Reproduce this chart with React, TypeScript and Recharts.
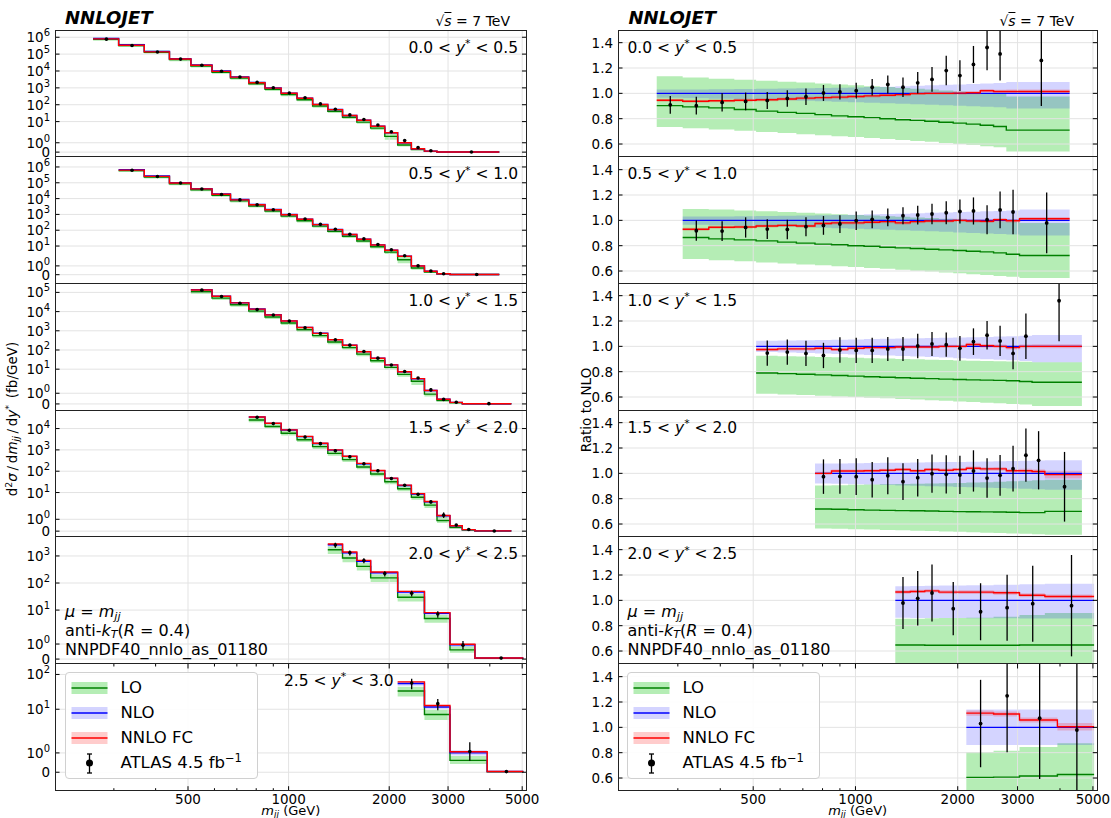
import React from "react";
import {
  Area,
  ComposedChart,
  ErrorBar,
  Line,
  ReferenceLine,
  Scatter,
  XAxis,
  YAxis,
} from "recharts";

const FONT = '"DejaVu Sans", Verdana, sans-serif';

// ---- layout ----
const TOP = 30;
const PH = 126.7;
const XAXIS_H = 34;
const LEFT = { chartLeft: 0, axisW: 55, plotW: 471.5 };
const RIGHT = { chartLeft: 560, axisW: 58, plotW: 479.3 };

const X_DOMAIN = [200, 5150];
const RATIO_DOMAIN = [0.5, 1.5];
const xTicks = [300, 400, 500, 600, 700, 800, 900, 1000, 2000, 3000, 4000, 5000];
const xMajor = [500, 1000, 2000, 3000, 5000];
const ratioTicks = [0.6, 0.8, 1.0, 1.2, 1.4];

// ---- 0.0 < y* < 0.5 ----
const edges1 = [260, 310, 370, 440, 510, 590, 670, 760, 850, 950, 1060, 1180, 1310, 1450, 1600, 1760, 1940, 2120, 2330, 2550, 2780, 4270];
const nlo1 = [8.5e5, 3.6e5, 1.45e5, 5.4e4, 2.3e4, 1.0e4, 4.5e3, 2.1e3, 1.0e3, 490, 245, 105, 52, 23, 12, 5.3, 2.2, 1.0, 0.36, 0.11, 0.015];
const lo1 = [0.903, 0.893, 0.885, 0.872, 0.86, 0.85, 0.842, 0.832, 0.822, 0.815, 0.808, 0.8, 0.792, 0.787, 0.78, 0.772, 0.765, 0.757, 0.748, 0.738, 0.71];
const loHi1 = [1.135, 1.125, 1.115, 1.108, 1.1, 1.092, 1.085, 1.078, 1.07, 1.063, 1.056, 1.05, 1.043, 1.036, 1.03, 1.022, 1.015, 1.008, 1.0, 0.995, 0.975];
const loLo1 = [0.735, 0.725, 0.715, 0.705, 0.695, 0.687, 0.678, 0.67, 0.662, 0.655, 0.647, 0.64, 0.632, 0.624, 0.617, 0.608, 0.6, 0.592, 0.583, 0.574, 0.54];
const nloHi1 = [1.03, 1.03, 1.032, 1.034, 1.036, 1.038, 1.04, 1.042, 1.045, 1.047, 1.05, 1.053, 1.056, 1.06, 1.063, 1.067, 1.07, 1.074, 1.078, 1.082, 1.09];
const nloLo1 = [0.965, 0.962, 0.958, 0.954, 0.95, 0.946, 0.942, 0.938, 0.934, 0.93, 0.926, 0.922, 0.918, 0.914, 0.91, 0.906, 0.902, 0.898, 0.894, 0.89, 0.88];
const nnlo1 = [0.945, 0.938, 0.942, 0.945, 0.95, 0.955, 0.962, 0.966, 0.97, 0.975, 0.98, 0.985, 0.99, 0.998, 1.0, 1.0, 1.002, 1.005, 1.02, 1.015, 1.015];
const nnloErr1 = [0.012, 0.012, 0.012, 0.012, 0.012, 0.012, 0.012, 0.012, 0.012, 0.012, 0.012, 0.012, 0.012, 0.012, 0.012, 0.012, 0.013, 0.013, 0.014, 0.014, 0.015];
const data1 = [0.909, 0.903, 0.928, 0.936, 0.944, 0.96, 0.973, 1.003, 1.011, 1.021, 1.048, 1.07, 1.048, 1.083, 1.11, 1.18, 1.14, 1.228, 1.362, 1.311, 1.26];
const err1 = [0.07, 0.07, 0.072, 0.07, 0.067, 0.065, 0.065, 0.063, 0.06, 0.062, 0.065, 0.071, 0.077, 0.085, 0.098, 0.117, 0.122, 0.146, 0.18, 0.21, 0.36];

// ---- 0.5 < y* < 1.0 ----
const edges2 = [310, 370, 440, 510, 590, 670, 760, 850, 950, 1060, 1180, 1310, 1450, 1600, 1760, 1940, 2120, 2330, 2550, 2780, 3040, 4270];
const nlo2 = [6.8e5, 2.7e5, 1.02e5, 4.3e4, 1.97e4, 8.7e3, 4.2e3, 2.03e3, 980, 500, 230, 111, 54, 27, 11.8, 5.4, 2.25, 1.0, 0.39, 0.1, 0.02];
const lo2 = [0.865, 0.854, 0.846, 0.838, 0.828, 0.82, 0.812, 0.807, 0.8, 0.796, 0.788, 0.783, 0.778, 0.772, 0.767, 0.762, 0.756, 0.751, 0.743, 0.732, 0.722];
const loHi2 = [1.09, 1.085, 1.078, 1.072, 1.066, 1.06, 1.054, 1.048, 1.043, 1.038, 1.033, 1.028, 1.023, 1.018, 1.013, 1.008, 1.003, 0.998, 0.993, 0.988, 0.98];
const loLo2 = [0.695, 0.685, 0.677, 0.668, 0.66, 0.652, 0.645, 0.638, 0.631, 0.624, 0.617, 0.61, 0.603, 0.596, 0.589, 0.582, 0.575, 0.568, 0.561, 0.554, 0.544];
const nloHi2 = [1.03, 1.031, 1.033, 1.035, 1.037, 1.039, 1.041, 1.043, 1.045, 1.048, 1.05, 1.053, 1.056, 1.059, 1.062, 1.065, 1.068, 1.071, 1.074, 1.078, 1.085];
const nloLo2 = [0.965, 0.961, 0.957, 0.953, 0.949, 0.945, 0.941, 0.937, 0.933, 0.929, 0.925, 0.921, 0.917, 0.913, 0.909, 0.905, 0.901, 0.897, 0.893, 0.889, 0.88];
const nnlo2 = [0.93, 0.945, 0.948, 0.955, 0.96, 0.955, 0.975, 0.98, 0.98, 0.985, 0.99, 0.98, 0.99, 0.995, 0.995, 1.0, 0.995, 0.993, 1.005, 0.997, 1.012];
const nnloErr2 = [0.012, 0.012, 0.012, 0.012, 0.012, 0.012, 0.012, 0.012, 0.012, 0.012, 0.012, 0.012, 0.012, 0.012, 0.012, 0.013, 0.013, 0.013, 0.014, 0.014, 0.015];
const data2 = [0.918, 0.915, 0.944, 0.931, 0.928, 0.95, 0.96, 0.971, 0.997, 1.008, 1.024, 1.037, 1.042, 1.05, 1.06, 1.07, 1.074, 1.005, 1.082, 1.066, 0.98];
const err2 = [0.08, 0.078, 0.08, 0.078, 0.077, 0.075, 0.074, 0.07, 0.073, 0.07, 0.07, 0.067, 0.074, 0.08, 0.09, 0.095, 0.107, 0.115, 0.145, 0.176, 0.24];

// ---- 1.0 < y* < 1.5 ----
const edges3 = [510, 590, 670, 760, 850, 950, 1060, 1180, 1310, 1450, 1600, 1760, 1940, 2120, 2330, 2550, 2780, 3040, 3310, 4640];
const nlo3 = [1.38e5, 6.4e4, 2.9e4, 1.37e4, 6.8e3, 3.3e3, 1.5e3, 740, 345, 178, 82, 37, 16.8, 7.3, 3.2, 1.26, 0.45, 0.15, 0.02];
const lo3 = [0.79, 0.785, 0.78, 0.775, 0.77, 0.765, 0.76, 0.756, 0.752, 0.748, 0.745, 0.741, 0.738, 0.735, 0.733, 0.731, 0.728, 0.722, 0.716];
const loHi3 = [0.925, 0.922, 0.919, 0.916, 0.913, 0.91, 0.907, 0.904, 0.901, 0.898, 0.895, 0.892, 0.889, 0.886, 0.884, 0.882, 0.88, 0.878, 0.875];
const loLo3 = [0.625, 0.62, 0.615, 0.61, 0.605, 0.6, 0.595, 0.59, 0.585, 0.58, 0.575, 0.57, 0.565, 0.56, 0.555, 0.55, 0.545, 0.54, 0.53];
const nloHi3 = [1.045, 1.047, 1.049, 1.051, 1.053, 1.055, 1.057, 1.059, 1.061, 1.063, 1.065, 1.067, 1.069, 1.071, 1.074, 1.077, 1.08, 1.084, 1.09];
const nloLo3 = [0.955, 0.951, 0.947, 0.943, 0.939, 0.935, 0.931, 0.927, 0.923, 0.919, 0.915, 0.911, 0.907, 0.903, 0.899, 0.895, 0.89, 0.885, 0.875];
const nnlo3 = [0.975, 0.98, 0.98, 0.985, 0.975, 0.985, 0.99, 0.99, 0.995, 0.995, 0.995, 1.0, 1.0, 1.015, 1.005, 1.0, 0.99, 1.0, 1.0];
const nnloErr3 = [0.012, 0.012, 0.012, 0.012, 0.012, 0.012, 0.012, 0.012, 0.012, 0.012, 0.012, 0.013, 0.013, 0.013, 0.014, 0.014, 0.015, 0.015, 0.016];
const data3 = [0.947, 0.955, 0.944, 0.928, 0.971, 0.968, 0.968, 0.979, 0.979, 1.003, 1.019, 1.013, 0.984, 1.037, 1.088, 1.043, 0.944, 1.08, 1.36];
const err3 = [0.1, 0.1, 0.1, 0.1, 0.1, 0.1, 0.1, 0.095, 0.095, 0.097, 0.095, 0.096, 0.097, 0.105, 0.113, 0.12, 0.124, 0.18, 0.32];

// ---- 1.5 < y* < 2.0 ----
const edges4 = [760, 850, 950, 1060, 1180, 1310, 1450, 1600, 1760, 1940, 2120, 2330, 2550, 2780, 3040, 3310, 3610, 4640];
const nlo4 = [3.5e4, 1.75e4, 8.5e3, 4.2e3, 2.0e3, 970, 495, 225, 106, 46, 21.5, 8.6, 3.7, 1.3, 0.45, 0.13, 0.02];
const lo4 = [0.719, 0.717, 0.713, 0.71, 0.708, 0.706, 0.705, 0.703, 0.7, 0.698, 0.697, 0.696, 0.695, 0.693, 0.69, 0.69, 0.7];
const loHi4 = [0.905, 0.907, 0.909, 0.911, 0.913, 0.915, 0.917, 0.919, 0.921, 0.924, 0.927, 0.93, 0.933, 0.937, 0.941, 0.945, 0.95];
const loLo4 = [0.565, 0.562, 0.559, 0.556, 0.553, 0.55, 0.547, 0.544, 0.541, 0.538, 0.535, 0.532, 0.529, 0.526, 0.523, 0.52, 0.515];
const nloHi4 = [1.077, 1.078, 1.08, 1.081, 1.083, 1.084, 1.086, 1.087, 1.089, 1.09, 1.092, 1.093, 1.095, 1.097, 1.099, 1.101, 1.103];
const nloLo4 = [0.92, 0.917, 0.914, 0.911, 0.908, 0.905, 0.902, 0.899, 0.896, 0.893, 0.89, 0.887, 0.884, 0.881, 0.878, 0.875, 0.87];
const nnlo4 = [1.0, 1.018, 1.018, 1.02, 1.025, 1.03, 1.02, 1.03, 1.025, 1.03, 1.04, 1.035, 1.035, 1.02, 1.02, 1.015, 0.99];
const nnloErr4 = [0.012, 0.012, 0.012, 0.012, 0.012, 0.012, 0.012, 0.013, 0.013, 0.013, 0.014, 0.014, 0.015, 0.015, 0.016, 0.016, 0.03];
const data4 = [0.974, 0.976, 0.974, 0.95, 0.981, 0.934, 0.966, 0.997, 0.992, 0.987, 1.019, 0.963, 0.984, 1.037, 1.143, 1.103, 0.894];
const err4 = [0.136, 0.137, 0.145, 0.14, 0.146, 0.145, 0.148, 0.151, 0.151, 0.151, 0.163, 0.156, 0.16, 0.18, 0.21, 0.23, 0.275];

// ---- 2.0 < y* < 2.5 ----
const edges5 = [1310, 1450, 1600, 1760, 2120, 2550, 3040, 3610, 5040];
const nlo5 = [2.6e3, 1.3e3, 640, 240, 46, 7.6, 0.95, 0.07];
const lo5 = [0.648, 0.648, 0.645, 0.645, 0.645, 0.645, 0.648, 0.648];
const loHi5 = [0.855, 0.855, 0.858, 0.86, 0.862, 0.87, 0.885, 0.9];
const loLo5 = [0.45, 0.45, 0.45, 0.45, 0.45, 0.45, 0.45, 0.45];
const nloHi5 = [1.112, 1.114, 1.116, 1.118, 1.12, 1.123, 1.127, 1.13];
const nloLo5 = [0.862, 0.861, 0.86, 0.86, 0.859, 0.858, 0.857, 0.856];
const nnlo5 = [1.066, 1.07, 1.075, 1.065, 1.065, 1.06, 1.04, 1.03];
const nnloErr5 = [0.013, 0.013, 0.013, 0.014, 0.014, 0.015, 0.016, 0.016];
const data5 = [0.979, 1.016, 1.058, 0.934, 0.91, 0.942, 0.974, 0.958];
const err5 = [0.205, 0.215, 0.225, 0.21, 0.225, 0.26, 0.3, 0.4];

// ---- 2.5 < y* < 3.0 ----
const edges6 = [2120, 2550, 3040, 3930, 5040];
const nlo6 = [55, 11.6, 1.0, 0.035];
const lo6 = [0.605, 0.607, 0.616, 0.628];
const loHi6 = [0.805, 0.815, 0.845, 0.875];
const loLo6 = [0.42, 0.42, 0.42, 0.42];
const nloHi6 = [1.14, 1.14, 1.14, 1.14];
const nloLo6 = [0.86, 0.86, 0.86, 0.86];
const nnlo6 = [1.112, 1.105, 1.058, 1.005];
const nnloErr6 = [0.02, 0.02, 0.02, 0.03];
const data6 = [1.03, 1.249, 1.072, 0.979];
const err6 = [0.345, 0.445, 0.48, 0.55];

const yLabels = ["0.0", "0.5", "1.0", "1.5", "2.0", "2.5", "3.0"];

// symlog (linthresh 2, linscale 1), in decades
const LIN = 2;
const LSC = 1 / (1 - 1 / 10);
const symlog = (v: number) => (v <= LIN ? (Math.max(v, 0) / LIN) * LSC : LSC + Math.log10(v / LIN));

type PanelDef = {
  edges: number[]; nlo: number[]; lo: number[]; loHi: number[]; loLo: number[];
  nloHi: number[]; nloLo: number[]; nnlo: number[]; nnloErr: number[];
  data: number[]; err: number[]; fDomain: [number, number]; maxExp: number;
};

const panels: PanelDef[] = [
  { edges: edges1, nlo: nlo1, lo: lo1, loHi: loHi1, loLo: loLo1, nloHi: nloHi1, nloLo: nloLo1, nnlo: nnlo1, nnloErr: nnloErr1, data: data1, err: err1, fDomain: [-0.27, 7.24], maxExp: 6 },
  { edges: edges2, nlo: nlo2, lo: lo2, loHi: loHi2, loLo: loLo2, nloHi: nloHi2, nloLo: nloLo2, nnlo: nnlo2, nnloErr: nnloErr2, data: data2, err: err2, fDomain: [-0.57, 7.44], maxExp: 6 },
  { edges: edges3, nlo: nlo3, lo: lo3, loHi: loHi3, loLo: loLo3, nloHi: nloHi3, nloLo: nloLo3, nnlo: nnlo3, nnloErr: nnloErr3, data: data3, err: err3, fDomain: [-0.3, 6.3], maxExp: 5 },
  { edges: edges4, nlo: nlo4, lo: lo4, loHi: loHi4, loLo: loLo4, nloHi: nloHi4, nloLo: nloLo4, nnlo: nnlo4, nnloErr: nnloErr4, data: data4, err: err4, fDomain: [-0.26, 5.68], maxExp: 4 },
  { edges: edges5, nlo: nlo5, lo: lo5, loHi: loHi5, loLo: loLo5, nloHi: nloHi5, nloLo: nloLo5, nnlo: nnlo5, nnloErr: nnloErr5, data: data5, err: err5, fDomain: [-0.17, 4.51], maxExp: 3 },
  { edges: edges6, nlo: nlo6, lo: lo6, loHi: loHi6, loLo: loLo6, nloHi: nloHi6, nloLo: nloLo6, nnlo: nnlo6, nnloErr: nnloErr6, data: data6, err: err6, fDomain: [-0.53, 3.11], maxExp: 2 },
];

function stepRows(p: PanelDef, abs: boolean) {
  const n = p.nlo.length;
  return p.edges.map((x, i) => {
    const k = Math.min(i, n - 1);
    const s = (r: number) => (abs ? symlog(p.nlo[k] * r) : r);
    return {
      x,
      lo: s(p.lo[k]),
      loBand: [s(p.loLo[k]), s(p.loHi[k])],
      nlo: s(1),
      nloBand: [s(p.nloLo[k]), s(p.nloHi[k])],
      nnlo: s(p.nnlo[k]),
      nnloBand: [s(p.nnlo[k] - p.nnloErr[k]), s(p.nnlo[k] + p.nnloErr[k])],
    };
  });
}

// error bars are cut at the frame, like the axes clip them in the original
function pointRows(p: PanelDef, abs: boolean) {
  return p.data.map((r, k) => {
    const x = (p.edges[k] + p.edges[k + 1]) / 2;
    if (!abs) {
      const down = Math.min(p.err[k], r - RATIO_DOMAIN[0]);
      const up = Math.min(p.err[k], RATIO_DOMAIN[1] - r);
      return { x, y: r, e: [down, up] };
    }
    const y = symlog(p.nlo[k] * r);
    const lo = symlog(p.nlo[k] * (r - p.err[k]));
    const hi = symlog(p.nlo[k] * (r + p.err[k]));
    return { x, y, e: [y - lo, hi - y] };
  });
}

const GRID = "#e3e3e3";
const INK = "#000";

function Panel({ p, idx, abs }: { p: PanelDef; idx: number; abs: boolean }) {
  const g = abs ? LEFT : RIGHT;
  const bottom = idx === 5;
  const h = PH + (bottom ? XAXIS_H : 0);
  const rightPad = 12;
  const width = g.axisW + g.plotW + rightPad;
  const plotL = g.axisW;
  const plotR = g.axisW + g.plotW;
  const rows = stepRows(p, abs);
  const pts = pointRows(p, abs);
  const rawTicks = [0, ...Array.from({ length: p.maxExp + 1 }, (_, i) => i)];
  const yTicks = abs ? rawTicks.map((e, i) => (i === 0 ? 0 : symlog(Math.pow(10, e)))) : ratioTicks;
  const yDomain = abs ? p.fDomain : RATIO_DOMAIN;

  const xTick = (props: any) => {
    const { x, payload } = props;
    const v = payload.value;
    const major = xMajor.includes(v);
    const len = major ? 4.5 : 2.5;
    return (
      <g>
        <line x1={x} x2={x} y1={PH} y2={PH - len} stroke={INK} strokeWidth={1} />
        <line x1={x} x2={x} y1={0} y2={len} stroke={INK} strokeWidth={1} />
        {bottom && major && (
          <text x={x} y={PH + 13.5} textAnchor="middle" fontFamily={FONT} fontSize={13.5} fill={INK}>
            {v}
          </text>
        )}
      </g>
    );
  };

  const yTick = (props: any) => {
    const { y, payload } = props;
    const i = yTicks.indexOf(payload.value);
    let label: React.ReactNode;
    if (abs) {
      label =
        i === 0 ? (
          "0"
        ) : (
          <>
            <tspan>10</tspan>
            <tspan dy={-6} fontSize={10}>
              {rawTicks[i]}
            </tspan>
          </>
        );
    } else {
      label = payload.value.toFixed(1);
    }
    return (
      <g>
        <line x1={plotL} x2={plotL + 4.5} y1={y} y2={y} stroke={INK} strokeWidth={1} />
        <line x1={plotR} x2={plotR - 4.5} y1={y} y2={y} stroke={INK} strokeWidth={1} />
        <text x={plotL - 5} y={y + 5} textAnchor="end" fontFamily={FONT} fontSize={13.5} fill={INK}>
          {label}
        </text>
      </g>
    );
  };

  const dot = (props: any) => <circle cx={props.cx} cy={props.cy} r={abs ? 1.8 : 1.9} fill={INK} />;

  return (
    <div style={{ position: "absolute", left: g.chartLeft, top: TOP + idx * PH }}>
      <ComposedChart width={width} height={h} data={rows} margin={{ top: 0, right: rightPad, bottom: 0, left: 0 }}>
        <XAxis
          dataKey="x"
          type="number"
          scale="log"
          domain={X_DOMAIN}
          allowDataOverflow
          ticks={xTicks}
          interval={0}
          height={bottom ? XAXIS_H : 0}
          axisLine={false}
          tickLine={false}
          tickSize={0}
          tickMargin={0}
          tick={xTick}
        />
        <YAxis
          type="number"
          domain={yDomain}
          allowDataOverflow
          ticks={yTicks}
          interval={0}
          width={g.axisW}
          axisLine={false}
          tickLine={false}
          tickSize={0}
          tickMargin={0}
          tick={yTick}
        />
        {xMajor.map((v) => (
          <ReferenceLine key={"gx" + v} x={v} stroke={GRID} strokeWidth={1} />
        ))}
        {yTicks.map((v) => (
          <ReferenceLine key={"gy" + v} y={v} stroke={GRID} strokeWidth={1} />
        ))}
        <Area dataKey="loBand" type="stepAfter" fill="#32cd32" fillOpacity={0.36} stroke="none" isAnimationActive={false} />
        <Line dataKey="lo" type="stepAfter" stroke="#008000" strokeWidth={1.4} dot={false} activeDot={false} isAnimationActive={false} />
        <Area dataKey="nloBand" type="stepAfter" fill="#0000ff" fillOpacity={0.17} stroke="none" isAnimationActive={false} />
        <Line dataKey="nlo" type="stepAfter" stroke="#0000ff" strokeWidth={1.4} dot={false} activeDot={false} isAnimationActive={false} />
        <Area dataKey="nnloBand" type="stepAfter" fill="#ff0000" fillOpacity={0.2} stroke="none" isAnimationActive={false} />
        <Line dataKey="nnlo" type="stepAfter" stroke="#ff0000" strokeWidth={1.4} dot={false} activeDot={false} isAnimationActive={false} />
        <Scatter data={pts} dataKey="y" shape={dot} isAnimationActive={false}>
          <ErrorBar dataKey="e" direction="y" width={0} stroke={INK} strokeWidth={1.3} />
        </Scatter>
      </ComposedChart>
    </div>
  );
}

function T({ x, y, anchor = "start", size = 14, children, style }: any) {
  const tx = anchor === "start" ? "0" : anchor === "end" ? "-100%" : "-50%";
  return (
    <div
      style={{
        position: "absolute",
        left: x,
        top: y,
        transform: `translate(${tx}, -50%)`,
        fontFamily: FONT,
        fontSize: size,
        lineHeight: 1,
        whiteSpace: "nowrap",
        color: INK,
        ...style,
      }}
    >
      {children}
    </div>
  );
}

const Sup = ({ children }: any) => (
  <span style={{ fontSize: "0.7em", position: "relative", top: "-0.5em" }}>{children}</span>
);
const Sub = ({ children }: any) => (
  <span style={{ fontSize: "0.7em", position: "relative", top: "0.25em" }}>{children}</span>
);

function YStar({ lo, hi }: { lo: string; hi: string }) {
  return (
    <>
      {lo} &lt; <i>y</i>
      <Sup>*</Sup> &lt; {hi}
    </>
  );
}

function Legend({ x }: { x: number }) {
  const rows = [
    { label: "LO", fill: "rgba(50,205,50,0.36)", line: "#008000" },
    { label: "NLO", fill: "rgba(0,0,255,0.17)", line: "#0000ff" },
    { label: "NNLO FC", fill: "rgba(255,0,0,0.2)", line: "#ff0000" },
  ];
  const ys = [688, 713, 738];
  return (
    <>
      <div
        style={{
          position: "absolute",
          left: x,
          top: 672,
          width: 193,
          height: 107,
          boxSizing: "border-box",
          border: "1px solid #d0d0d0",
          borderRadius: 4,
          background: "rgba(255,255,255,0.9)",
        }}
      />
      <svg style={{ position: "absolute", left: x, top: 672, overflow: "visible" }} width={193} height={107}>
        {rows.map((r, i) => (
          <g key={r.label}>
            <rect x={6.5} y={ys[i] - 672 - 6} width={36} height={12} fill={r.fill} />
            <line x1={6.5} x2={42.5} y1={ys[i] - 672} y2={ys[i] - 672} stroke={r.line} strokeWidth={1.6} />
          </g>
        ))}
        <line x1={24.5} x2={24.5} y1={754 - 672} y2={773 - 672} stroke={INK} strokeWidth={1.3} />
        <line x1={22} x2={27} y1={754 - 672} y2={754 - 672} stroke={INK} strokeWidth={1.3} />
        <line x1={22} x2={27} y1={773 - 672} y2={773 - 672} stroke={INK} strokeWidth={1.3} />
        <circle cx={24.5} cy={763 - 672} r={3.5} fill={INK} />
      </svg>
      {rows.map((r, i) => (
        <T key={r.label} x={x + 56} y={ys[i]} size={16.5}>
          {r.label}
        </T>
      ))}
      <T x={x + 56} y={763} size={16.5}>
        ATLAS 4.5 fb<Sup>−1</Sup>
      </T>
    </>
  );
}

function Annot({ x }: { x: number }) {
  return (
    <>
      <T x={x} y={612} size={16}>
        <i>μ</i> = <i>m</i>
        <Sub>
          <i>jj</i>
        </Sub>
      </T>
      <T x={x} y={630.5} size={16}>
        anti-<i>k</i>
        <Sub>
          <i>T</i>
        </Sub>
        (<i>R</i> = 0.4)
      </T>
      <T x={x} y={649.5} size={16}>
        NNPDF40_nnlo_as_01180
      </T>
    </>
  );
}

function Frames() {
  const out: React.ReactNode[] = [];
  for (let i = 0; i < 6; i++) {
    for (const g of [LEFT, RIGHT]) {
      out.push(
        <div
          key={`${i}-${g.chartLeft}`}
          style={{
            position: "absolute",
            left: g.chartLeft + g.axisW - 0.5,
            top: TOP + i * PH - 0.5,
            width: g.plotW + 1,
            height: PH + 1,
            boxSizing: "border-box",
            border: "1.2px solid #222",
            pointerEvents: "none",
          }}
        />
      );
    }
  }
  return <>{out}</>;
}

export default function App() {
  const lx = LEFT.chartLeft + LEFT.axisW;
  const rx = RIGHT.chartLeft + RIGHT.axisW;
  return (
    <div style={{ position: "absolute", left: 0, top: 0, width: 1111, height: 818, background: "#fff", overflow: "hidden" }}>
      <style>{".recharts-surface{overflow:visible}"}</style>
      {panels.map((p, i) => (
        <Panel key={"L" + i} p={p} idx={i} abs={true} />
      ))}
      {panels.map((p, i) => (
        <Panel key={"R" + i} p={p} idx={i} abs={false} />
      ))}
      <Frames />

      <T x={lx + 10} y={18} size={18} style={{ fontWeight: "bold", fontStyle: "italic" }}>
        NNLOJET
      </T>
      <T x={rx + 10.5} y={18} size={18} style={{ fontWeight: "bold", fontStyle: "italic" }}>
        NNLOJET
      </T>
      <T x={510} y={21} anchor="end" size={14}>
        √<span style={{ borderTop: "1px solid #000" }}><i>s</i></span> = 7 TeV
      </T>
      <T x={1074} y={21} anchor="end" size={14}>
        √<span style={{ borderTop: "1px solid #000" }}><i>s</i></span> = 7 TeV
      </T>

      {panels.map((_, i) =>
        i < 5 ? (
          <T key={"lt" + i} x={518} y={TOP + i * PH + 18.5} anchor="end" size={15.5}>
            <YStar lo={yLabels[i]} hi={yLabels[i + 1]} />
          </T>
        ) : (
          <T key={"lt" + i} x={284} y={TOP + i * PH + 18} size={15.5}>
            <YStar lo={yLabels[i]} hi={yLabels[i + 1]} />
          </T>
        )
      )}
      {panels.slice(0, 5).map((_, i) => (
        <T key={"rt" + i} x={rx + 9.5} y={TOP + i * PH + 18.5} size={15.5}>
          <YStar lo={yLabels[i]} hi={yLabels[i + 1]} />
        </T>
      ))}

      <Annot x={lx + 10} />
      <Annot x={rx + 9.5} />
      <Legend x={lx + 9.5} />
      <Legend x={rx + 8.5} />

      <T x={lx + LEFT.plotW / 2} y={810.5} anchor="middle" size={13}>
        <i>m</i>
        <Sub>
          <i>jj</i>
        </Sub>{" "}
        (GeV)
      </T>
      <T x={rx + RIGHT.plotW / 2} y={810.5} anchor="middle" size={13}>
        <i>m</i>
        <Sub>
          <i>jj</i>
        </Sub>{" "}
        (GeV)
      </T>

      <div
        style={{
          position: "absolute",
          left: 13,
          top: 419,
          transform: "translate(-50%, -50%) rotate(-90deg)",
          fontFamily: FONT,
          fontSize: 13.5,
          whiteSpace: "nowrap",
          lineHeight: 1,
        }}
      >
        d<Sup>2</Sup>
        <i>σ</i>
        {"\u2009/\u2009"}d<i>m</i>
        <Sub>
          <i>jj</i>
        </Sub>
        {"\u2009/\u2009"}d<i>y</i>
        <Sup>*</Sup>
        {"\u2002"}(fb/GeV)
      </div>
      <div
        style={{
          position: "absolute",
          left: 587,
          top: 410,
          transform: "translate(-50%, -50%) rotate(-90deg)",
          fontFamily: FONT,
          fontSize: 13.5,
          whiteSpace: "nowrap",
          lineHeight: 1,
        }}
      >
        Ratio to NLO
      </div>
    </div>
  );
}
